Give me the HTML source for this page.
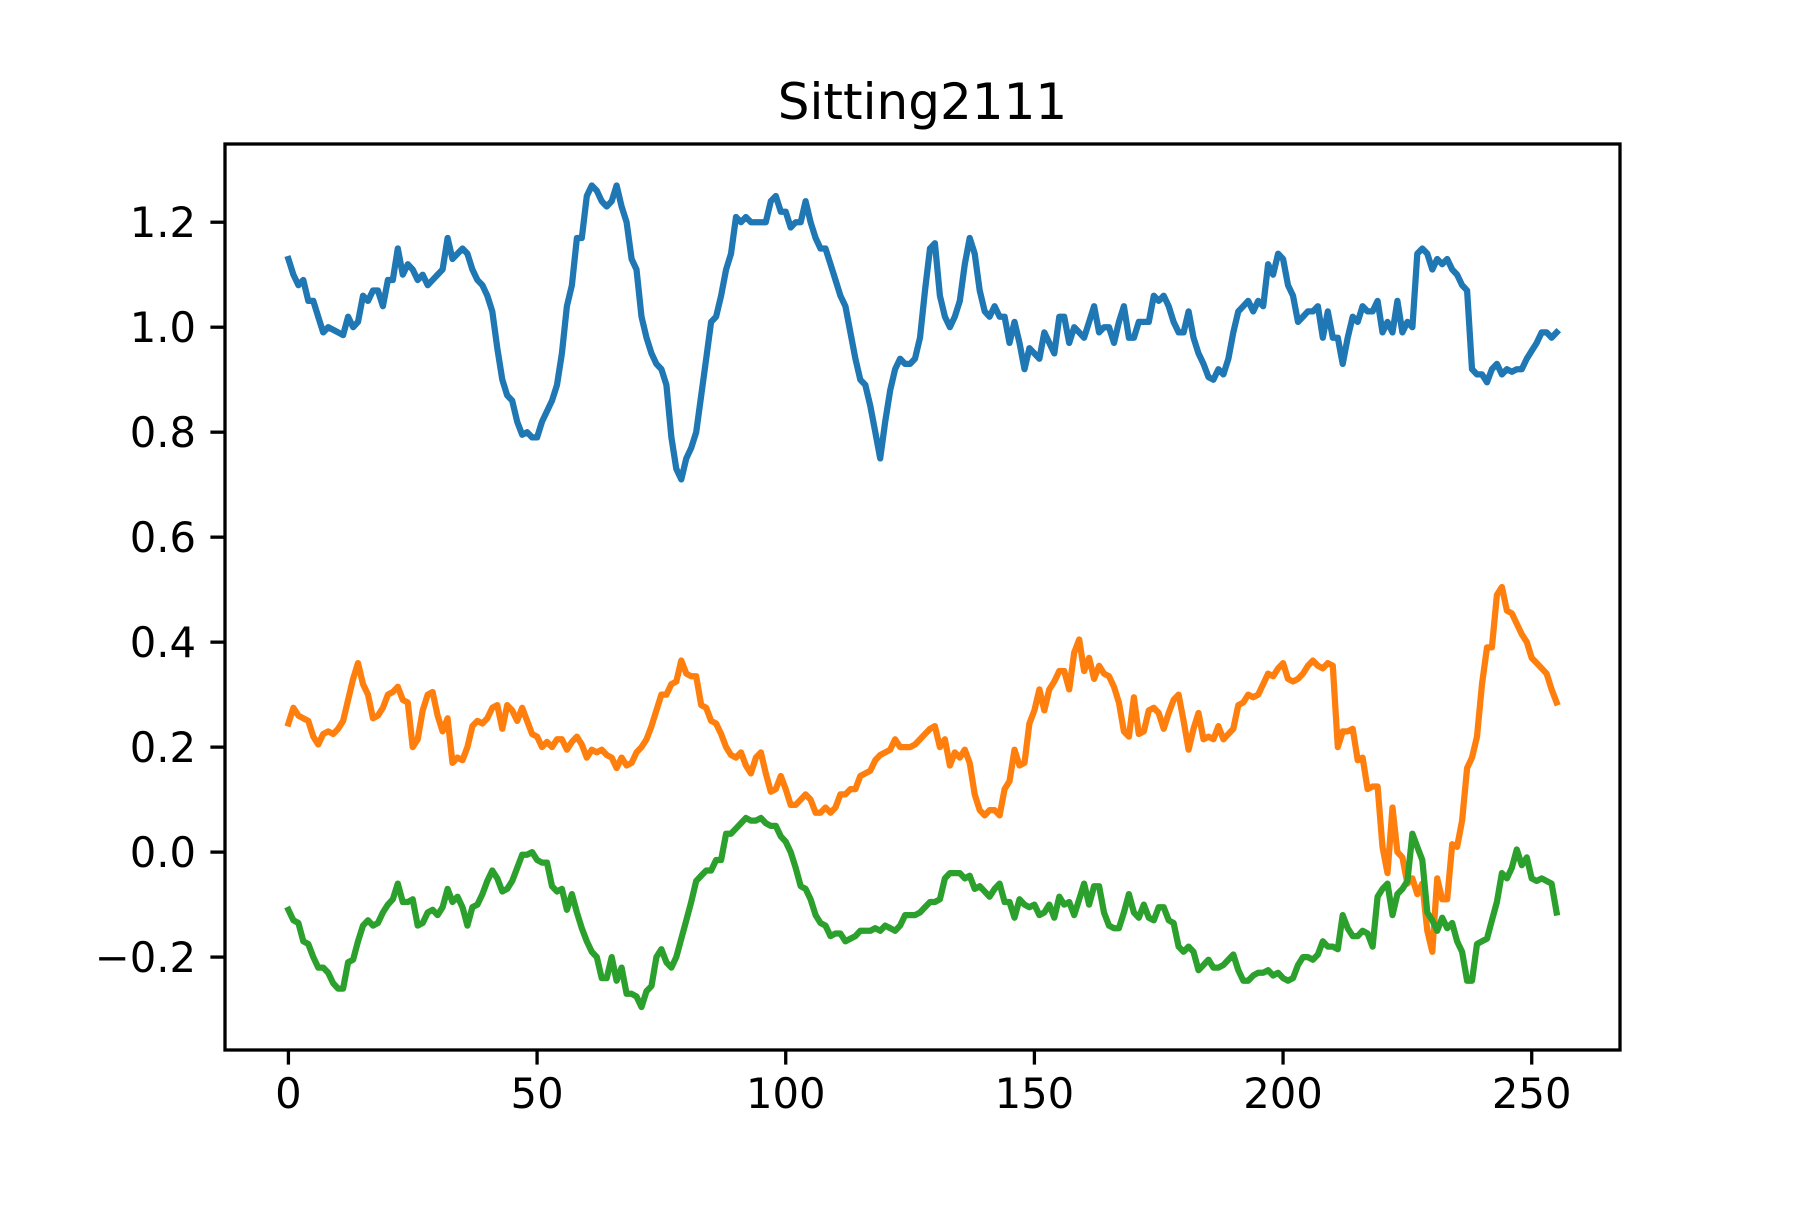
<!DOCTYPE html>
<html><head><meta charset="utf-8"><style>
html,body{margin:0;padding:0;background:#fff;}
svg text{font-family:"DejaVu Sans","Liberation Sans",sans-serif;fill:#000;}
</style></head><body>
<svg id="chart" width="1800" height="1200" viewBox="0 0 1800 1200">
<rect x="0" y="0" width="1800" height="1200" fill="#fff"/>
<text x="922.5" y="119" font-size="50" text-anchor="middle">Sitting2111</text>
<g id="marks"></g>
<g id="axes"></g>
<rect x="225" y="144" width="1395" height="906" fill="none" stroke="#000" stroke-width="3.3"/>
</svg>
<script>
const xTicks=[0,50,100,150,200,250];
const yTicks=[-0.2,0,0.2,0.4,0.6,0.8,1.0,1.2];
const yTickLabels=["\u22120.2","0.0","0.2","0.4","0.6","0.8","1.0","1.2"];
const seriesBlue=[1.13,1.10,1.08,1.09,1.05,1.05,1.02,0.99,1.00,0.995,
0.99,0.985,1.02,1.00,1.01,1.06,1.05,1.07,1.07,1.04,
1.09,1.09,1.15,1.10,1.12,1.11,1.09,1.10,1.08,1.09,
1.10,1.11,1.17,1.13,1.14,1.15,1.14,1.11,1.09,1.08,
1.06,1.03,0.96,0.90,0.87,0.86,0.82,0.795,0.80,0.79,
0.79,0.82,0.84,0.86,0.89,0.95,1.04,1.08,1.17,1.17,
1.25,1.27,1.26,1.24,1.23,1.24,1.27,1.23,1.20,1.13,
1.11,1.02,0.98,0.95,0.93,0.92,0.89,0.79,0.73,0.71,
0.75,0.77,0.80,0.87,0.94,1.01,1.02,1.06,1.11,1.14,
1.21,1.20,1.21,1.20,1.20,1.20,1.20,1.24,1.25,1.22,
1.22,1.19,1.20,1.20,1.24,1.20,1.17,1.15,1.15,1.12,
1.09,1.06,1.04,0.99,0.94,0.90,0.89,0.85,0.80,0.75,
0.82,0.88,0.92,0.94,0.93,0.93,0.94,0.98,1.07,1.15,
1.16,1.06,1.02,1.00,1.02,1.05,1.12,1.17,1.14,1.07,
1.03,1.02,1.04,1.02,1.02,0.97,1.01,0.97,0.92,0.96,
0.95,0.94,0.99,0.97,0.95,1.02,1.02,0.97,1.00,0.99,
0.98,1.01,1.04,0.99,1.00,1.00,0.97,1.01,1.04,0.98,
0.98,1.01,1.01,1.01,1.06,1.05,1.06,1.04,1.01,0.99,
0.99,1.03,0.98,0.95,0.93,0.905,0.90,0.92,0.91,0.94,
0.99,1.03,1.04,1.05,1.03,1.05,1.04,1.12,1.10,1.14,
1.13,1.08,1.06,1.01,1.02,1.03,1.03,1.04,0.98,1.03,
0.98,0.98,0.93,0.98,1.02,1.01,1.04,1.03,1.03,1.05,
0.99,1.01,0.99,1.05,0.99,1.01,1.00,1.14,1.15,1.14,
1.11,1.13,1.12,1.13,1.11,1.10,1.08,1.07,0.92,0.91,
0.91,0.895,0.92,0.93,0.91,0.92,0.915,0.92,0.92,0.94,
0.955,0.97,0.99,0.99,0.98,0.99];
const seriesOrange=[0.245,0.275,0.26,0.255,0.25,0.22,0.205,0.225,0.23,0.225,
0.235,0.25,0.29,0.33,0.36,0.32,0.30,0.255,0.26,0.275,
0.30,0.305,0.315,0.29,0.285,0.20,0.215,0.27,0.30,0.305,
0.26,0.23,0.255,0.17,0.18,0.175,0.20,0.24,0.25,0.245,
0.255,0.275,0.28,0.235,0.28,0.27,0.25,0.275,0.25,0.225,
0.22,0.20,0.21,0.20,0.215,0.215,0.195,0.21,0.22,0.205,
0.18,0.195,0.19,0.195,0.185,0.18,0.16,0.18,0.165,0.17,
0.19,0.20,0.215,0.24,0.27,0.30,0.30,0.32,0.325,0.365,
0.34,0.335,0.335,0.28,0.275,0.25,0.245,0.225,0.20,0.185,
0.18,0.19,0.165,0.15,0.18,0.19,0.15,0.115,0.12,0.145,
0.12,0.09,0.09,0.10,0.11,0.10,0.075,0.075,0.085,0.075,
0.085,0.11,0.11,0.12,0.12,0.145,0.15,0.155,0.175,0.185,
0.19,0.195,0.215,0.20,0.20,0.20,0.205,0.215,0.225,0.235,
0.24,0.20,0.215,0.165,0.19,0.18,0.195,0.17,0.11,0.08,
0.07,0.08,0.08,0.07,0.12,0.135,0.195,0.165,0.17,0.245,
0.27,0.31,0.27,0.31,0.325,0.345,0.345,0.31,0.38,0.405,
0.345,0.37,0.33,0.355,0.34,0.335,0.315,0.285,0.23,0.22,
0.295,0.225,0.23,0.27,0.275,0.265,0.235,0.265,0.29,0.30,
0.25,0.195,0.235,0.265,0.215,0.22,0.215,0.24,0.215,0.225,
0.235,0.28,0.285,0.30,0.295,0.30,0.32,0.34,0.335,0.35,
0.36,0.33,0.325,0.33,0.34,0.355,0.365,0.355,0.35,0.36,
0.355,0.20,0.23,0.23,0.235,0.175,0.18,0.12,0.125,0.125,
0.01,-0.04,0.085,0.00,-0.01,-0.06,-0.05,-0.08,-0.06,-0.15,
-0.19,-0.05,-0.09,-0.09,0.015,0.01,0.06,0.16,0.18,0.22,
0.32,0.39,0.39,0.49,0.505,0.46,0.455,0.435,0.415,0.40,
0.37,0.36,0.35,0.34,0.31,0.285];
const seriesGreen=[-0.11,-0.13,-0.135,-0.17,-0.175,-0.20,-0.22,-0.22,-0.23,-0.25,
-0.26,-0.26,-0.21,-0.205,-0.17,-0.14,-0.13,-0.14,-0.135,-0.115,
-0.10,-0.09,-0.06,-0.095,-0.095,-0.09,-0.14,-0.135,-0.115,-0.11,
-0.12,-0.105,-0.07,-0.095,-0.085,-0.105,-0.14,-0.105,-0.10,-0.08,
-0.055,-0.035,-0.05,-0.075,-0.07,-0.055,-0.03,-0.005,-0.005,0.00,
-0.015,-0.02,-0.02,-0.065,-0.075,-0.07,-0.11,-0.08,-0.115,-0.145,
-0.17,-0.19,-0.20,-0.24,-0.24,-0.20,-0.245,-0.22,-0.27,-0.27,
-0.275,-0.295,-0.265,-0.255,-0.20,-0.185,-0.21,-0.22,-0.20,-0.165,
-0.13,-0.095,-0.055,-0.045,-0.035,-0.035,-0.015,-0.015,0.035,0.035,
0.045,0.055,0.065,0.06,0.06,0.065,0.055,0.05,0.05,0.03,
0.02,0.00,-0.03,-0.065,-0.07,-0.09,-0.12,-0.135,-0.14,-0.16,
-0.155,-0.155,-0.17,-0.165,-0.16,-0.15,-0.15,-0.15,-0.145,-0.15,
-0.14,-0.145,-0.15,-0.14,-0.12,-0.12,-0.12,-0.115,-0.105,-0.095,
-0.095,-0.09,-0.05,-0.04,-0.04,-0.04,-0.05,-0.045,-0.07,-0.065,
-0.075,-0.085,-0.07,-0.06,-0.095,-0.095,-0.125,-0.09,-0.10,-0.105,
-0.10,-0.12,-0.115,-0.10,-0.125,-0.085,-0.10,-0.095,-0.12,-0.09,
-0.06,-0.10,-0.065,-0.065,-0.115,-0.14,-0.145,-0.145,-0.115,-0.08,
-0.115,-0.125,-0.10,-0.125,-0.13,-0.105,-0.105,-0.13,-0.135,-0.18,
-0.19,-0.18,-0.19,-0.225,-0.215,-0.205,-0.22,-0.22,-0.215,-0.205,
-0.195,-0.225,-0.245,-0.245,-0.235,-0.23,-0.23,-0.225,-0.235,-0.23,
-0.24,-0.245,-0.24,-0.215,-0.20,-0.20,-0.205,-0.195,-0.17,-0.18,
-0.18,-0.185,-0.12,-0.145,-0.16,-0.16,-0.15,-0.155,-0.18,-0.085,
-0.07,-0.06,-0.12,-0.08,-0.07,-0.055,0.035,0.01,-0.015,-0.115,
-0.13,-0.15,-0.125,-0.145,-0.135,-0.17,-0.19,-0.245,-0.245,-0.175,
-0.17,-0.165,-0.13,-0.095,-0.04,-0.05,-0.03,0.005,-0.025,-0.01,
-0.05,-0.055,-0.05,-0.055,-0.06,-0.115];
const seriesColors=["#1f77b4","#ff7f0e","#2ca02c"];

const L=225,R=1620,T=144,B=1050;
const xMin=-12.75,xMax=267.75,yMin=-0.377,yMax=1.349;
function xs(v){return L+(v-xMin)/(xMax-xMin)*(R-L);}
function ys(v){return B-(v-yMin)/(yMax-yMin)*(B-T);}
const NS="http://www.w3.org/2000/svg";
const marks=document.getElementById('marks');
const axes=document.getElementById('axes');
const names=["series-blue-line","series-orange-line","series-green-line"];
[seriesBlue,seriesOrange,seriesGreen].forEach((s,k)=>{
  const p=document.createElementNS(NS,'polyline');
  p.setAttribute('points',s.map((v,i)=>xs(i).toFixed(1)+','+ys(v).toFixed(1)).join(' '));
  p.setAttribute('fill','none');
  p.setAttribute('stroke',seriesColors[k]);
  p.setAttribute('stroke-width','6.25');
  p.setAttribute('stroke-linejoin','round');
  p.setAttribute('stroke-linecap','square');
  
  
  marks.appendChild(p);
});
xTicks.forEach(t=>{
  const x=xs(t);
  const l=document.createElementNS(NS,'line');
  l.setAttribute('x1',x);l.setAttribute('x2',x);l.setAttribute('y1',B);l.setAttribute('y2',B+14.6);
  l.setAttribute('stroke','#000');l.setAttribute('stroke-width','3.3');
  
  
  axes.appendChild(l);
  const tx=document.createElementNS(NS,'text');
  tx.setAttribute('x',x);tx.setAttribute('y',B+58);tx.setAttribute('font-size','41.7');tx.setAttribute('text-anchor','middle');
  tx.textContent=String(t);
  
  
  axes.appendChild(tx);
});
yTicks.forEach((t,i)=>{
  const y=ys(t);
  const l=document.createElementNS(NS,'line');
  l.setAttribute('x1',L-14.6);l.setAttribute('x2',L);l.setAttribute('y1',y);l.setAttribute('y2',y);
  l.setAttribute('stroke','#000');l.setAttribute('stroke-width','3.3');
  
  
  axes.appendChild(l);
  const tx=document.createElementNS(NS,'text');
  tx.setAttribute('x',L-29);tx.setAttribute('y',y+15);tx.setAttribute('font-size','41.7');tx.setAttribute('text-anchor','end');
  tx.textContent=yTickLabels[i];
  
  
  axes.appendChild(tx);
});
</script>
</body></html>
